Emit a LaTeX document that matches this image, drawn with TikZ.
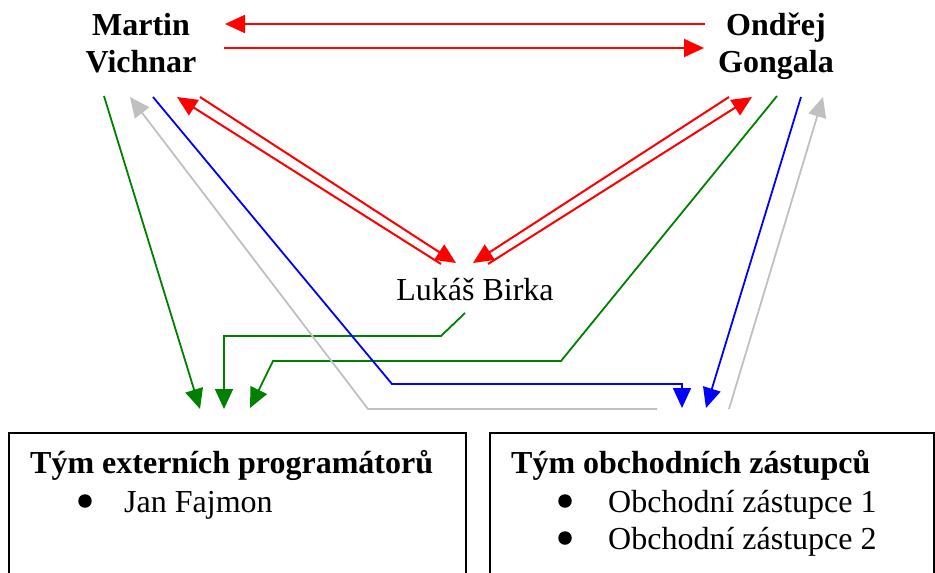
\documentclass[tikz,border=0pt]{standalone}
\usepackage{fontspec}
\setmainfont{Liberation Serif}
\usetikzlibrary{arrows.meta,calc}
\definecolor{rd}{RGB}{255,0,0}
\definecolor{gn}{RGB}{0,128,0}
\definecolor{bl}{RGB}{0,0,255}
\definecolor{gy}{RGB}{192,192,192}

\begin{document}
\begin{tikzpicture}[x=1pt,y=-1pt,
  person/.style={font=\fontsize{32}{37}\selectfont\bfseries, align=center, inner sep=0pt},
  plain/.style={font=\fontsize{32}{37}\selectfont, inner sep=0pt},
  heading/.style={font=\fontsize{32}{37}\selectfont\bfseries, inner sep=0pt, anchor=base west},
  item/.style={plain, anchor=base west},
  dot/.style={circle, fill=black, inner sep=0pt, minimum size=13.5pt},
  teambox/.style={draw=black, line width=1.6pt, anchor=north west, inner sep=0pt,
                  minimum width=457pt, minimum height=180pt},
  tip/.style={-{Triangle[length=20pt,width=18pt]}},
  link/.style={line width=1.8pt, line join=miter},
  redlink/.style={link, draw=rd, line width=2pt},
]
\useasboundingbox (0,0) rectangle (935,573);
\clip (0,0) rectangle (935,573);

% people
\node[person, anchor=south] (mv) at (141,73) {Martin\\Vichnar};
\node[person, anchor=south] (og) at (776,80) {Ondřej\\Gongala};
\node[plain, anchor=base] (lb) at (475,300) {Lukáš Birka};

% teams
\node[teambox] (bx1) at (8,432) {};
\node[teambox, minimum width=444pt] (bx2) at (489,432) {};

\node[heading] (t1) at ($(bx1.north west)+(22,41)$) {Tým externích programátorů};
\node[dot] (d11) at ($(bx1.north west)+(77,69)$) {};
\node[item] (i11) at ($(bx1.north west)+(116,80)$) {Jan Fajmon};

\node[heading] (t2) at ($(bx2.north west)+(22,41)$) {Tým obchodních zástupců};
\node[dot] (d21) at ($(bx2.north west)+(76,69)$) {};
\node[item] (i21) at ($(bx2.north west)+(119,80)$) {Obchodní zástupce 1};
\node[dot] (d22) at ($(bx2.north west)+(76,106)$) {};
\node[item] (i22) at ($(bx2.north west)+(119,117)$) {Obchodní zástupce 2};

% red: between the people
\draw[redlink, tip] ($(og.south)+(-71,-56)$) -- ($(mv.south)+(84,-49)$);
\draw[redlink, tip] ($(mv.south)+(83,-25)$) -- ($(og.south)+(-72,-32)$);
\draw[redlink, tip] ($(lb.base)+(-34,-36)$) -- ($(mv.south)+(36,24)$);
\draw[redlink, tip] ($(mv.south)+(59,24)$) -- ($(lb.base)+(-19,-37)$);
\draw[redlink, tip] ($(og.south)+(-47,17)$) -- ($(lb.base)+(-2,-37)$);
\draw[redlink, tip] ($(lb.base)+(13,-36)$) -- ($(og.south)+(-24,17)$);

% green: towards the programmers
\draw[link, draw=gn, tip] ($(mv.south)+(-37,23)$) -- ($(bx1.north west)+(192,-23)$);
\draw[link, draw=gn, tip] ($(lb.base)+(-10,13)$) -- ++(-24,23) -| ($(bx1.north west)+(216,-23)$);
\draw[link, draw=gn, tip] ($(og.south)+(1,16)$) -- (561,361) -- (273,361) -- ($(bx1.north west)+(242,-24)$);

% blue: towards the sales team
\draw[link, draw=bl, tip] ($(mv.south)+(12,24)$) -- (392,384) -| ($(bx2.north west)+(193,-24)$);
\draw[link, draw=bl, tip] ($(og.south)+(25,17)$) -- ($(bx2.north west)+(217,-24)$);

% gray: back from the sales team
\draw[link, draw=gy, tip] ($(bx2.north west)+(168,-23)$) -- (368,409) -- ($(mv.south)+(-11,24)$);
\draw[link, draw=gy, tip] ($(bx2.north west)+(240,-23)$) -- ($(og.south)+(47,17)$);
\end{tikzpicture}
\end{document}
